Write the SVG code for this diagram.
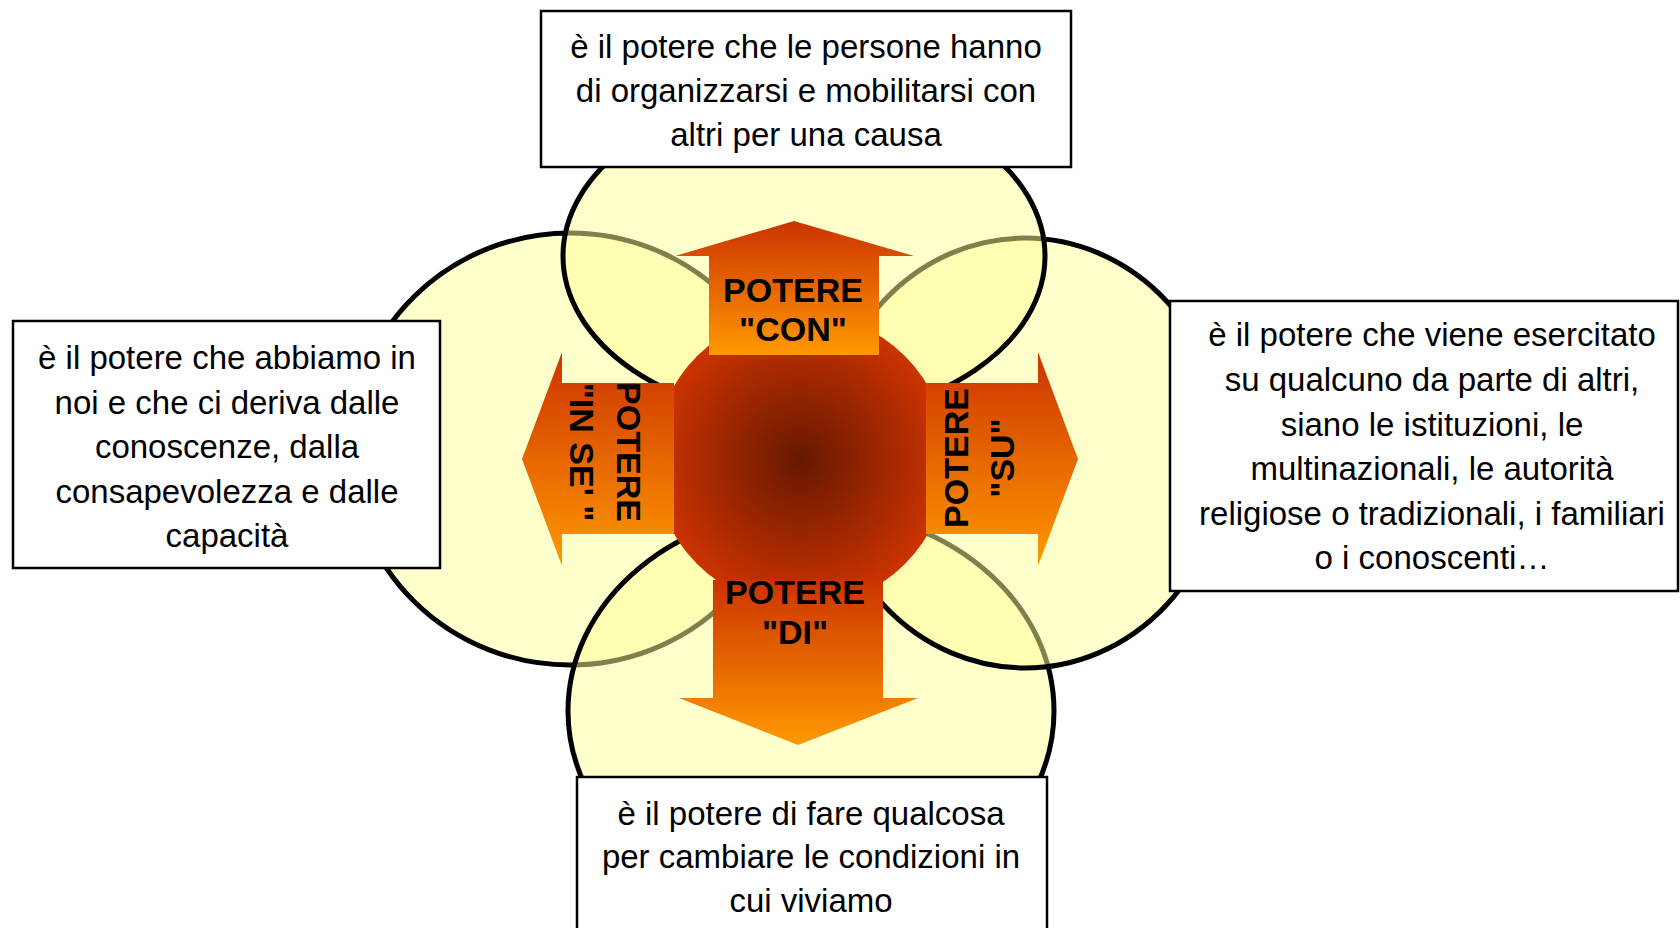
<svg xmlns="http://www.w3.org/2000/svg" width="1680" height="928" viewBox="0 0 1680 928">
<defs>
<style>
.ell{fill:#FFFF99;fill-opacity:0.5;stroke:#000;stroke-width:5}
.box{fill:#fff;stroke:#000;stroke-width:2.5}
.desc{font-family:"Liberation Sans",Arial,sans-serif;font-size:33px;fill:#000;text-anchor:middle}
.lbl{font-family:"Liberation Sans",Arial,sans-serif;font-size:34px;font-weight:bold;fill:#000;text-anchor:middle}
.arrow{fill:url(#arrowGrad)}
</style>
<linearGradient id="arrowGrad" x1="0" y1="0" x2="0" y2="1">
<stop offset="0" stop-color="#CC3300"/>
<stop offset="1" stop-color="#FF9900"/>
</linearGradient>
<radialGradient id="coreGrad" cx="0.5" cy="0.5" r="0.5">
<stop offset="0" stop-color="#661800"/>
<stop offset="1" stop-color="#CC3300"/>
</radialGradient>
</defs>
<rect width="1680" height="928" fill="#fff"/>

<g id="petals">
<ellipse id="petal-left" class="ell" cx="570" cy="449" rx="220" ry="216"/>
<ellipse id="petal-bottom" class="ell" cx="811" cy="711" rx="243" ry="202"/>
<ellipse id="petal-right" class="ell" cx="1025" cy="453" rx="200" ry="215"/>
<ellipse id="petal-top" class="ell" cx="804" cy="256" rx="241" ry="162"/>
</g>

<g id="core">
<circle cx="801" cy="460" r="147" fill="url(#coreGrad)"/>
</g>

<g id="connectors">
<polygon id="arrow-con" class="arrow" points="794,221 914,256 879,256 879,355 709,355 709,256 675,256"/>
<polygon id="arrow-inse" class="arrow" points="522,459 562,352 562,383 674,383 674,534 562,534 562,566"/>
<polygon id="arrow-su" class="arrow" points="1078,459 1038,352 1038,383 926,383 926,534 1038,534 1038,566"/>
<polygon id="arrow-di" class="arrow" points="713,580 883,580 883,698 918,698 798,745 679,698 713,698"/>
</g>

<g id="label-con">
<text class="lbl" x="793" y="302">POTERE</text>
<text class="lbl" x="793" y="341">"CON"</text>
</g>
<g id="label-di">
<text class="lbl" x="795" y="604">POTERE</text>
<text class="lbl" x="795" y="644">"DI"</text>
</g>
<g id="label-inse" transform="translate(600,452) rotate(90)">
<text class="lbl" x="0" y="-17">POTERE</text>
<text class="lbl" x="0" y="30">"IN SE' "</text>
</g>
<g id="label-su" transform="translate(985,458) rotate(-90)">
<text class="lbl" x="0" y="-17">POTERE</text>
<text class="lbl" x="0" y="29">"SU"</text>
</g>

<g id="box-con">
<rect class="box" x="541" y="11" width="530" height="156"/>
<text class="desc" x="806" y="58">è il potere che le persone hanno</text>
<text class="desc" x="806" y="102">di organizzarsi e mobilitarsi con</text>
<text class="desc" x="806" y="146">altri per una causa</text>
</g>

<g id="box-inse">
<rect class="box" x="13" y="321" width="427" height="247"/>
<text class="desc" x="227" y="369">è il potere che abbiamo in</text>
<text class="desc" x="227" y="414">noi e che ci deriva dalle</text>
<text class="desc" x="227" y="458">conoscenze, dalla</text>
<text class="desc" x="227" y="503">consapevolezza e dalle</text>
<text class="desc" x="227" y="547">capacità</text>
</g>

<g id="box-su">
<rect class="box" x="1170" y="301" width="508" height="290"/>
<text class="desc" x="1432" y="346">è il potere che viene esercitato</text>
<text class="desc" x="1432" y="391">su qualcuno da parte di altri,</text>
<text class="desc" x="1432" y="436">siano le istituzioni, le</text>
<text class="desc" x="1432" y="480">multinazionali, le autorità</text>
<text class="desc" x="1432" y="525">religiose o tradizionali, i familiari</text>
<text class="desc" x="1432" y="569">o i conoscenti…</text>
</g>

<g id="box-di">
<rect class="box" x="577" y="777" width="470" height="170"/>
<text class="desc" x="811" y="825">è il potere di fare qualcosa</text>
<text class="desc" x="811" y="868">per cambiare le condizioni in</text>
<text class="desc" x="811" y="912">cui viviamo</text>
</g>
</svg>
